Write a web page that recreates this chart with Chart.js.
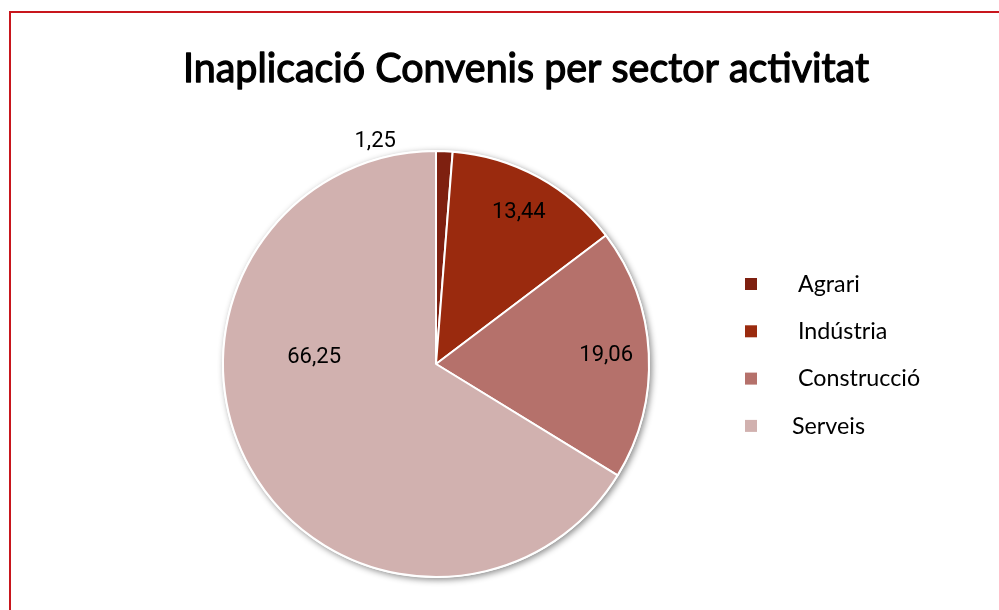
<!DOCTYPE html>
<html>
<head>
<meta charset="utf-8">
<script src="https://cdn.jsdelivr.net/npm/chart.js@4"></script>
<style>
  html, body { margin: 0; padding: 0; background: #fff; overflow: hidden; }
  #wrap { position: relative; width: 999px; height: 610px; }
  #frame {
    position: absolute; left: 9px; top: 11px;
    width: 1100px; height: 700px;
    border: 2px solid #c8161d;
    pointer-events: none;
  }
  canvas { position: absolute; left: 0; top: 0; }
</style>
</head>
<body>
<div id="wrap">
  <canvas id="chart" width="999" height="610"></canvas>
  <div id="frame"></div>
</div>
<script>
// Chart data
const titleText = 'Inaplicació Convenis per sector activitat';
const sectors = [' Agrari', ' Indústria', ' Construcció', 'Serveis'];
const shares = [1.25, 13.44, 19.06, 66.25];
const sliceColors = ['#7e2010', '#9a2a0e', '#b5716b', '#d1b1af'];

// Where each value label sits: fraction of radius and angle shift (deg) from slice middle
const labelPlacement = [
  { r: 1.085, da: -17.5 },
  { r: 0.81, da: 0 },
  { r: 0.8, da: 0 },
  { r: 0.573, da: 32.5 }
];

// draw text squeezed horizontally (mimics the narrow Gill Sans look)
function squeezedText(ctx, text, x, y, sx, align, strokeW) {
  ctx.save();
  const w = ctx.measureText(text).width * sx;
  let left = x;
  if (align === 'center') left = x - w / 2;
  ctx.translate(left, y);
  ctx.scale(sx, 1);
  ctx.textAlign = 'left';
  ctx.fillText(text, 0, 0);
  if (strokeW) {
    ctx.lineWidth = strokeW;
    ctx.strokeStyle = ctx.fillStyle;
    ctx.lineJoin = 'round';
    ctx.strokeText(text, 0, 0);
  }
  ctx.restore();
}

const decorPlugin = {
  id: 'decor',
  beforeDatasetsDraw(chart) {
    // soft shadow under the pie
    const arc = chart.getDatasetMeta(0).data[0];
    if (!arc) return;
    const { x, y, outerRadius } = arc.getProps(['x', 'y', 'outerRadius'], true);
    const ctx = chart.ctx;
    ctx.save();
    ctx.shadowColor = 'rgba(0, 0, 0, 0.45)';
    ctx.shadowBlur = 6;
    ctx.shadowOffsetX = 2;
    ctx.shadowOffsetY = 2;
    ctx.beginPath();
    ctx.arc(x, y, outerRadius + 1, 0, Math.PI * 2);
    ctx.fillStyle = '#ffffff';
    ctx.fill();
    ctx.restore();
  },
  afterDatasetsDraw(chart) {
    const ctx = chart.ctx;
    const meta = chart.getDatasetMeta(0);

    // value labels
    ctx.save();
    ctx.font = '22px Roboto';
    ctx.fillStyle = '#000';
    ctx.textAlign = 'center';
    ctx.textBaseline = 'middle';
    meta.data.forEach((arc, i) => {
      const p = arc.getProps(['x', 'y', 'startAngle', 'endAngle', 'outerRadius'], true);
      const place = labelPlacement[i];
      const mid = (p.startAngle + p.endAngle) / 2 + place.da * Math.PI / 180;
      const r = p.outerRadius * place.r;
      const txt = shares[i].toFixed(2).replace('.', ',');
      ctx.fillText(txt, p.x + Math.cos(mid) * r, p.y + Math.sin(mid) * r);
    });
    ctx.restore();

    // title
    ctx.save();
    ctx.font = '41px Lato';
    ctx.fillStyle = '#000';
    ctx.textBaseline = 'alphabetic';
    const tw = ctx.measureText(titleText).width;
    squeezedText(ctx, titleText, 526, 82, 686 / tw, 'center', 1.3);
    ctx.restore();

    // legend
    ctx.save();
    ctx.font = '24px Lato';
    ctx.fillStyle = '#000';
    ctx.textBaseline = 'middle';
    sectors.forEach((name, i) => {
      const cy = 284 + i * 47.3;
      ctx.fillStyle = sliceColors[i];
      ctx.fillRect(745, cy - 6, 12, 12);
      ctx.fillStyle = '#000';
      squeezedText(ctx, name, 792, cy, 0.97, 'left');
    });
    ctx.restore();
  }
};

new Chart(document.getElementById('chart'), {
  type: 'pie',
  data: {
    labels: sectors,
    datasets: [{
      data: shares,
      backgroundColor: sliceColors,
      borderColor: '#ffffff',
      borderWidth: 2
    }]
  },
  options: {
    responsive: false,
    animation: false,
    devicePixelRatio: 1,
    layout: {
      padding: { left: 222, right: 349, top: 150, bottom: 32 }
    },
    plugins: {
      legend: { display: false },
      title: { display: false },
      tooltip: { enabled: false }
    }
  },
  plugins: [decorPlugin]
});
</script>
</body>
</html>
